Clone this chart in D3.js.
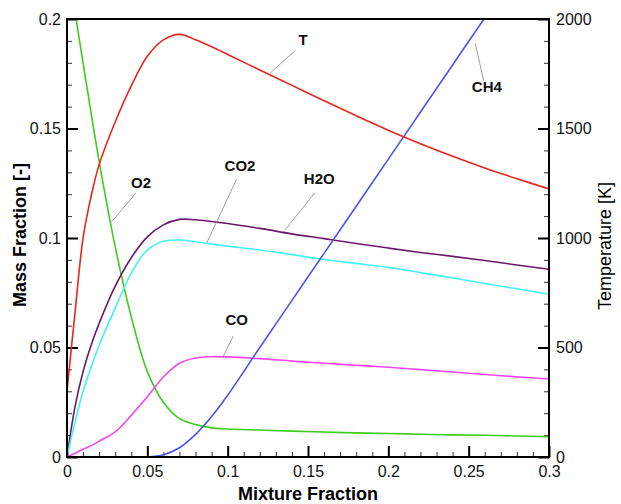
<!DOCTYPE html>
<html>
<head>
<meta charset="utf-8">
<script src="https://cdn.jsdelivr.net/npm/d3@7"></script>
<style>
    body { margin: 0; background: #fff; }
    svg { display: block; font-family: "Liberation Sans", Arial, Helvetica, sans-serif; }
    .tick text { font-size: 16px; fill: #111; }
</style>
</head>
<body>
<svg id="chart" width="621" height="504"></svg>
<script>
'use strict';

// mixture fraction grid, shared by every series
var mixFraction = [0, 0.005, 0.01, 0.015, 0.02, 0.03, 0.04, 0.05, 0.06, 0.07, 0.08, 0.09, 0.1,
    0.12, 0.14, 0.16, 0.18, 0.2, 0.22, 0.24, 0.26, 0.28, 0.3];

// temperature [K], right axis
var temperature = [300, 660, 1000, 1190, 1335, 1530, 1695, 1830, 1905, 1930, 1905, 1873, 1838,
    1767, 1697, 1627, 1558, 1492, 1430, 1373, 1320, 1271, 1224];

// mass fractions [-], left axis
var o2 = [0.226, 0.203, 0.18, 0.157, 0.135, 0.096, 0.064, 0.039, 0.025, 0.0175, 0.0148, 0.0133, 0.0128,
    0.0123, 0.0118, 0.0114, 0.011, 0.0107, 0.0104, 0.0101, 0.0099, 0.0096, 0.0093];
var h2o = [0, 0.023, 0.039, 0.051, 0.061, 0.078, 0.091, 0.1005, 0.106, 0.1085, 0.1083, 0.1075, 0.1066,
    0.1044, 0.1019, 0.0997, 0.0975, 0.0954, 0.0934, 0.0916, 0.0897, 0.0877, 0.0857];
var co2 = [0, 0.016, 0.03, 0.041, 0.051, 0.068, 0.084, 0.0945, 0.0985, 0.0991, 0.0983, 0.0972, 0.0963,
    0.0945, 0.0924, 0.0902, 0.0884, 0.0866, 0.0842, 0.0818, 0.0792, 0.0768, 0.0743];
var co = [0, 0.0017, 0.0035, 0.0052, 0.0072, 0.0115, 0.019, 0.0275, 0.0365, 0.0428, 0.0452, 0.0458, 0.0457,
    0.0449, 0.0438, 0.0428, 0.0419, 0.041, 0.0399, 0.0388, 0.0377, 0.0366, 0.0356];
var ch4 = [0, 0, 0, 0, 0, 0, 0, 0, 0.001, 0.0042, 0.0103, 0.0185, 0.0282,
    0.05, 0.0715, 0.093, 0.1145, 0.136, 0.1575, 0.179, 0.2005, null, null];

var xTicks = [0, 0.05, 0.1, 0.15, 0.2, 0.25, 0.3];
var yTicks = [0, 0.05, 0.1, 0.15, 0.2];
var tTicks = [0, 500, 1000, 1500, 2000];

var seriesNames = ['O2', 'H2O', 'CO2', 'CO', 'CH4', 'T'];
var seriesColors = ['#3fcc1e', '#6a1a6a', '#44f2f2', '#f547f0', '#4a55ee', '#e8261c'];

// label text position and leader line (data coords of curve end, label end)
var labels = [
    { name: 'T', lx: 0.147, ly: 0.1905, from: [0.1263, 0.1752], to: [0.1422, 0.1857] },
    { name: 'CH4', lx: 0.2613, ly: 0.1692, from: [0.2541, 0.1889], to: [0.2593, 0.1719] },
    { name: 'H2O', lx: 0.1570, ly: 0.1272, from: [0.1357, 0.1037], to: [0.1543, 0.1207] },
    { name: 'CO2', lx: 0.1077, ly: 0.1329, from: [0.0869, 0.0977], to: [0.1056, 0.1269] },
    { name: 'O2', lx: 0.0461, ly: 0.1252, from: [0.0278, 0.1074], to: [0.0429, 0.1206] },
    { name: 'CO', lx: 0.1056, ly: 0.0626, from: [0.0969, 0.0454], to: [0.1035, 0.0553] }
];

var width = 621, height = 504;
var margin = { top: 19, right: 72, bottom: 47, left: 67 };
var innerW = width - margin.left - margin.right;
var innerH = height - margin.top - margin.bottom;

var svg = d3.select('#chart');
var g = svg.append('g').attr('transform', 'translate(' + margin.left + ',' + margin.top + ')');

var x = d3.scaleLinear().domain([0, 0.3]).range([0, innerW]);
var y = d3.scaleLinear().domain([0, 0.2]).range([innerH, 0]);
var yT = d3.scaleLinear().domain([0, 2000]).range([innerH, 0]);

function fmt(d) {
    return d === 0 ? '0' : String(+d.toFixed(2));
}

function minors(lo, hi, step, majorStep) {
    return d3.range(0, Math.round((hi - lo) / step) + 1)
        .map(function(i) { return lo + i * step; })
        .filter(function(v) { return Math.abs(v / majorStep - Math.round(v / majorStep)) > 1e-6; });
}

// minor ticks
g.append('g').attr('class', 'minor')
    .call(d3.axisLeft(y).tickValues(minors(0, 0.2, 0.01, 0.05)).tickSize(-5).tickSizeOuter(0).tickFormat(''));
g.append('g').attr('class', 'minor').attr('transform', 'translate(0,' + innerH + ')')
    .call(d3.axisBottom(x).tickValues(minors(0, 0.3, 0.01, 0.05)).tickSize(-5).tickSizeOuter(0).tickFormat(''));
g.append('g').attr('class', 'minor').attr('transform', 'translate(' + innerW + ',0)')
    .call(d3.axisRight(yT).tickValues(minors(0, 2000, 100, 500)).tickSize(-5).tickSizeOuter(0).tickFormat(''));

// major ticks
g.append('g').attr('class', 'major')
    .call(d3.axisLeft(y).tickValues(yTicks).tickSize(-11).tickSizeOuter(0).tickPadding(6).tickFormat(fmt));
g.append('g').attr('class', 'major').attr('transform', 'translate(0,' + innerH + ')')
    .call(d3.axisBottom(x).tickValues(xTicks).tickSize(-11).tickSizeOuter(0).tickPadding(9).tickFormat(fmt));
g.append('g').attr('class', 'major').attr('transform', 'translate(' + innerW + ',0)')
    .call(d3.axisRight(yT).tickValues(tTicks).tickSize(-11).tickSizeOuter(0).tickPadding(7).tickFormat(d3.format('d')));

g.selectAll('.domain').remove();
g.selectAll('.minor line').attr('stroke', '#333').attr('stroke-width', 1);
g.selectAll('.major line').attr('stroke', '#000').attr('stroke-width', 2);

// curves
g.append('clipPath').attr('id', 'plot-clip')
    .append('rect').attr('width', innerW).attr('height', innerH);

var massSeries = [o2, h2o, co2, co, ch4];
var curves = g.append('g').attr('clip-path', 'url(#plot-clip)');

massSeries.forEach(function(values, i) {
    var line = d3.line()
        .defined(function(d, j) { return values[j] !== null; })
        .x(function(d, j) { return x(mixFraction[j]); })
        .y(function(d, j) { return y(values[j]); })
        .curve(d3.curveCatmullRom.alpha(0.5));
    curves.append('path')
        .attr('d', line(values))
        .attr('fill', 'none')
        .attr('stroke', seriesColors[i])
        .attr('stroke-width', 1.6);
});

var tLine = d3.line()
    .x(function(d, j) { return x(mixFraction[j]); })
    .y(function(d) { return yT(d); })
    .curve(d3.curveCatmullRom.alpha(0.5));
curves.append('path')
    .attr('d', tLine(temperature))
    .attr('fill', 'none')
    .attr('stroke', seriesColors[5])
    .attr('stroke-width', 1.6);

// curve labels with leader lines
labels.forEach(function(l) {
    g.append('line')
        .attr('x1', x(l.from[0])).attr('y1', y(l.from[1]))
        .attr('x2', x(l.to[0])).attr('y2', y(l.to[1]))
        .attr('stroke', '#888').attr('stroke-width', 0.8);
    g.append('text')
        .attr('x', x(l.lx)).attr('y', y(l.ly))
        .attr('text-anchor', 'middle')
        .attr('dy', '0.36em')
        .style('font-size', '15px').style('font-weight', 'bold').style('fill', '#111')
        .text(l.name);
});

// frame
g.append('rect')
    .attr('width', innerW).attr('height', innerH)
    .attr('fill', 'none').attr('stroke', '#000').attr('stroke-width', 2);

// axis titles
svg.append('text')
    .attr('x', margin.left + innerW / 2).attr('y', 500)
    .attr('text-anchor', 'middle')
    .style('font-size', '18px').style('font-weight', 'bold')
    .text('Mixture Fraction');

svg.append('text')
    .attr('transform', 'translate(26,235) rotate(-90)')
    .attr('text-anchor', 'middle')
    .style('font-size', '18px').style('font-weight', 'bold')
    .text('Mass Fraction [-]');

svg.append('text')
    .attr('transform', 'translate(611,246) rotate(-90)')
    .attr('text-anchor', 'middle')
    .style('font-size', '18px')
    .text('Temperature [K]');
</script>
</body>
</html>
